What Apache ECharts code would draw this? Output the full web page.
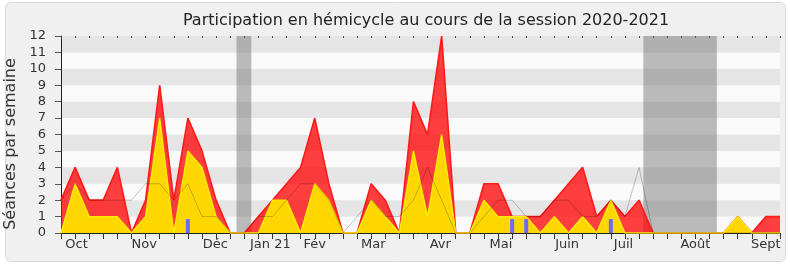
<!DOCTYPE html>
<html><head><meta charset="utf-8">
<script src="https://cdn.jsdelivr.net/npm/echarts@6/dist/echarts.min.js"></script>
<style>html,body{margin:0;padding:0;background:#fff}#c{width:790px;height:267px}</style>
</head><body><div id="c"></div>
<script>
// weekly values, week 0 = start of session (late Sept 2020) to week 51 (Sept 2021)
const total      = [2,4,2,2,4,0,2,9,2,7,5,2,0,0,1,2,3,4,7,3,0,0,3,2,0,8,6,12,0,0,3,3,1,1,1,2,3,4,1,2,1,2,0,0,0,0,0,0,1,0,1,1];
const presence   = [0,3,1,1,1,0,1,7,0,5,4,1,0,0,0,2,2,0,3,2,0,0,2,1,0,5,1,6,0,0,2,1,1,1,0,1,0,1,0,2,0,0,0,0,0,0,0,0,1,0,0,0];
const median     = [2,3,2,2,2,2,3,3,2,3,1,1,0,0,1,1,2,3,3,2,0,1,2,1,1,2,4,2,0,0,1,2,2,1,1,2,2,1,1,2,1,4,0,0,0,0,0,0,0,0,0,0];
const questionWeeks = [9,32,33,39];
const questionVals  = [0.85,0.85,0.85,0.85];
const holidays = [[12.45,13.5],[41.31,46.52]];
const monthLabels = ['Oct','Nov','Déc','Jan 21','Fév','Mar','Avr','Mai','Juin','Juil','Août','Sept'];
const monthPos    = [1.1,5.9,10.95,14.85,18,22.15,26.9,31.2,35.9,39.9,45,50];
const yTicks = [0,1,2,3,4,5,6,7,8,9,10,11,12];

const FONT = '"DejaVu Sans",sans-serif';
const chart = echarts.init(document.getElementById('c'), null, {renderer:'canvas'});
const pair = a => a.map((v,i)=>[i,v]);
chart.setOption({
  animation:false,
  backgroundColor:'#fff',
  textStyle:{fontFamily:FONT},
  graphic:[{type:'rect',z:-100,silent:true,shape:{x:5.5,y:2.5,width:780,height:259,r:5},
            style:{fill:'#f0f0f0',stroke:'#d9d9d9',lineWidth:1}}],
  title:{text:'Participation en hémicycle au cours de la session 2020-2021',left:421,textAlign:'center',top:8,
         textStyle:{fontFamily:FONT,fontSize:16,fontWeight:'normal',color:'#222'}},
  grid:{left:61,right:10,top:36,bottom:34,containLabel:false,outerBoundsMode:'none'},
  xAxis:[
    {type:'value',min:0,max:51,interval:1,position:'bottom',
     axisLine:{show:true,onZero:false,lineStyle:{color:'#222',width:1}},
     axisTick:{show:true,length:6,lineStyle:{color:'#333'}},
     axisLabel:{show:false},splitLine:{show:false}},
    {type:'value',min:0,max:51,interval:0.05,position:'bottom',gridIndex:0,
     axisLine:{show:false},axisTick:{show:false},splitLine:{show:false},
     axisLabel:{show:true,margin:5,fontSize:13,color:'#333',fontFamily:FONT,
       formatter:v=>{const k=monthPos.findIndex(p=>Math.abs(p-v)<0.001);return k>=0?monthLabels[k]:'';}}},
    {type:'value',min:0,max:51,interval:1,position:'top',
     axisLine:{show:false},axisTick:{show:true,inside:true,length:2,lineStyle:{color:'#444',width:1}},
     axisLabel:{show:false},splitLine:{show:false}}
  ],
  yAxis:{type:'value',min:0,max:12,interval:1,
    name:'Séances par semaine',nameLocation:'middle',nameGap:41,
    nameTextStyle:{fontSize:16,color:'#333',fontFamily:FONT,padding:[0,19,0,0]},
    axisLine:{show:true,lineStyle:{color:'#222'}},
    axisTick:{show:true,length:6,lineStyle:{color:'#555'}},
    axisLabel:{fontSize:13,color:'#333',margin:15,fontFamily:FONT,formatter:v=>yTicks.includes(v)?String(v):''},
    splitLine:{show:false},
    splitArea:{show:true,areaStyle:{color:['#fafafa','#e5e5e5']}}},
  series:[
    {type:'line',data:[],z:1,silent:true,
     markArea:{silent:true,itemStyle:{color:'rgba(122,122,122,0.5)'},
       data:holidays.map(h=>[{xAxis:h[0]},{xAxis:h[1]}])}},
    {name:'total',type:'line',data:pair(total),z:2,symbol:'none',
     lineStyle:{color:'#ff1a1a',width:1.6},areaStyle:{color:'rgba(255,0,0,0.75)',opacity:1}},
    {name:'presence',type:'line',data:pair(presence),z:3,symbol:'none',
     lineStyle:{color:'#ffee00',width:1.4},areaStyle:{color:'#ffd700',opacity:1}},
    {name:'median',type:'line',data:pair(median),z:4,symbol:'none',
     lineStyle:{color:'rgba(0,0,0,0.22)',width:1}},
    {name:'questions',type:'bar',data:questionWeeks.map((w,k)=>[w,questionVals[k]]),z:5,barWidth:4,
     itemStyle:{color:'#6b6bff'}}
  ]
});
</script></body></html>
